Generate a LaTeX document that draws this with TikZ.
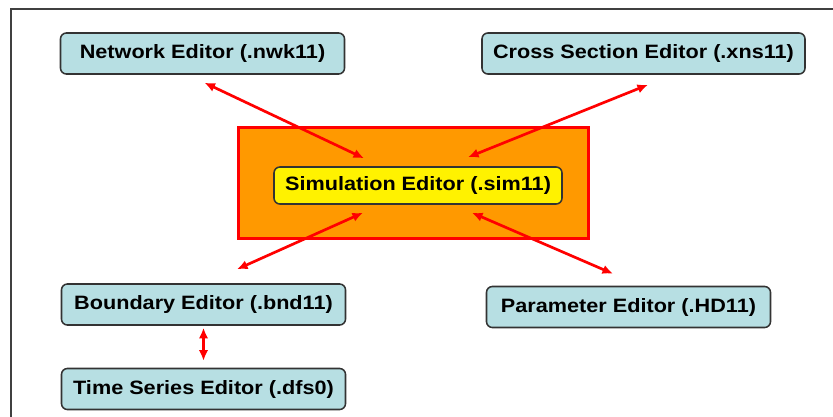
\documentclass[tikz,border=0pt]{standalone}
\usepackage{fontspec}
\setmainfont{Liberation Sans}
\newfontfamily\edfont[FakeStretch=1.12]{Liberation Sans}
\usepackage{xcolor}
\usetikzlibrary{calc,arrows.meta}
\definecolor{edblue}{RGB}{183,223,227}
\definecolor{simorange}{RGB}{255,153,0}
\def\px{0.03cm}

\begin{document}
\begin{tikzpicture}[x=0.03cm,y=-0.03cm,
	editor/.style={draw=black!80,line width=1.3pt,rounded corners=5pt,fill=edblue,font=\edfont\bfseries\fontsize{16.5}{19}\selectfont,minimum width=284*\px,minimum height=41*\px,inner sep=0pt},
	link/.style={red,line width=2.3pt,{Latex[length=9pt,width=8pt]}-{Latex[length=9pt,width=8pt]}}]
		\useasboundingbox (0,0) rectangle (833,417);
		\draw[black!75,line width=1.2pt] (11,417) -- (11,9) -- (833,9);
		\node[draw=red,line width=2pt,fill=simorange,minimum width=350*\px,minimum height=111*\px] (simbox) at (413.5,183) {};
		\node[editor,fill=yellow,minimum width=288*\px,minimum height=37*\px] (sim) at (418,185.5) {Simulation Editor (.sim11)};
		\node[editor] (nwk) at (202.5,53.5) {Network Editor (.nwk11)};
		\node[editor,minimum width=323*\px] (xns) at (643.5,53.5) {Cross Section Editor (.xns11)};
		\node[editor] (bnd) at (203.5,304.5) {Boundary Editor (.bnd11)};
		\node[editor] (ts) at (203.5,389) {Time Series Editor (.dfs0)};
		\node[editor] (hd) at (628.5,307) {Parameter Editor (.HD11)};
		\draw[link] ($(nwk.south)+(2,8)$) -- ($(sim.north)+(-54,-8)$);
		\draw[link] ($(xns.south)+(4.5,10)$) -- ($(sim.north)+(50,-9)$);
		\draw[link] ($(sim.south)+(-55,8)$) -- ($(bnd.north)+(33.5,-14)$);
		\draw[link] ($(sim.south)+(54,8)$) -- ($(hd.north)+(-15.5,-12)$);
		\draw[link] ($(bnd.south)+(0,2)$) -- ($(ts.north)+(0,-7)$);
	\end{tikzpicture}
\end{document}
